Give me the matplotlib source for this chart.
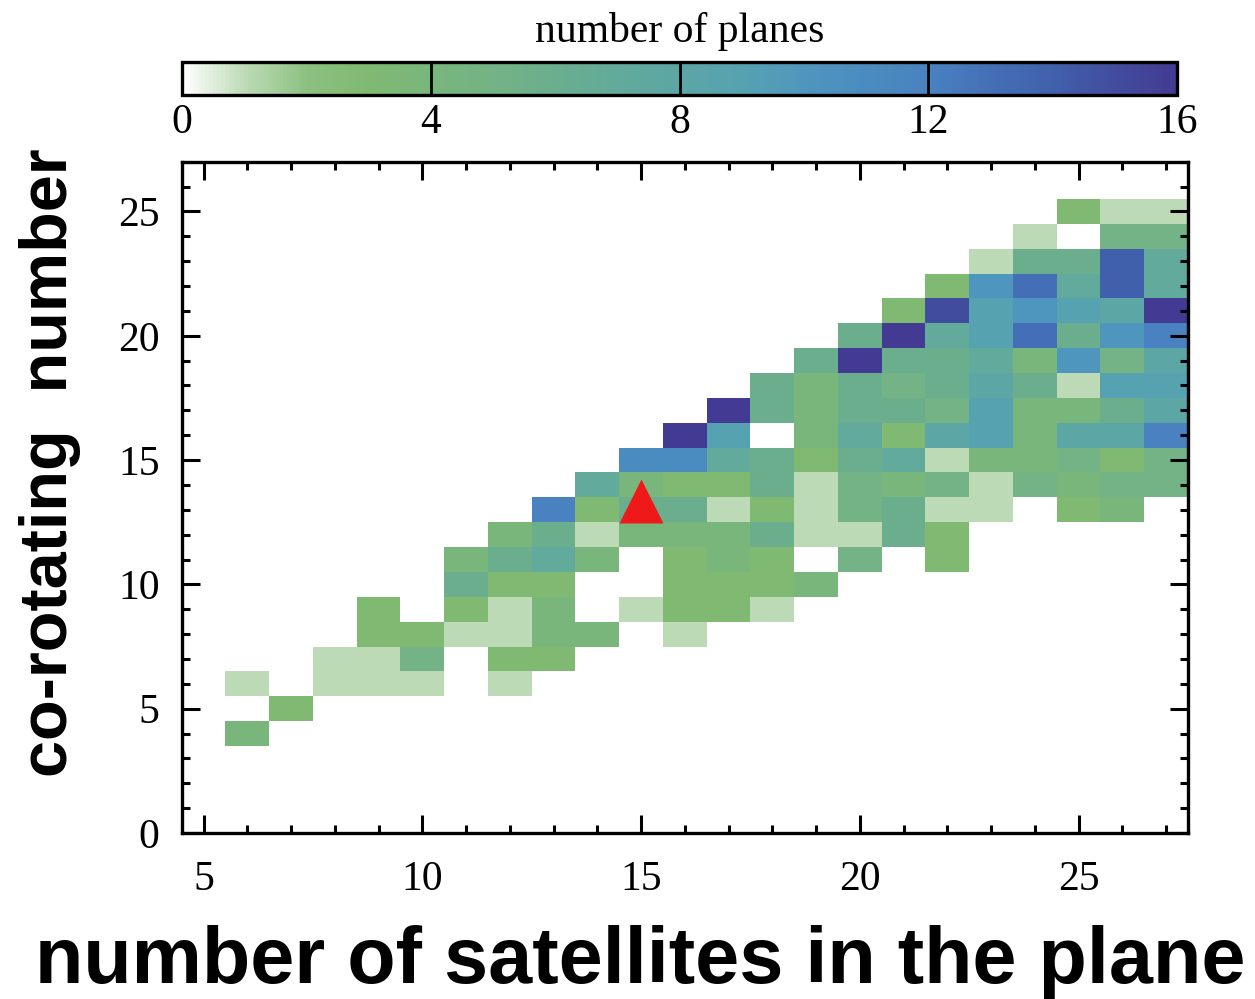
import numpy as np
import matplotlib
matplotlib.use('Agg')
import matplotlib.pyplot as plt
from matplotlib.colors import LinearSegmentedColormap

plt.rcParams['font.family'] = ['Liberation Serif', 'DejaVu Serif']

# column centres (satellites in the plane) and row centres (co-rotating number)
satellites = list(range(6, 28))
corotating = list(range(4, 26))

# number of planes per cell, first row is co-rotating = 4; 0 means no plane
planes = [
    [4, 0, 0, 0, 0, 0, 0, 0, 0, 0, 0, 0, 0, 0, 0, 0, 0, 0, 0, 0, 0, 0],
    [0, 3, 0, 0, 0, 0, 0, 0, 0, 0, 0, 0, 0, 0, 0, 0, 0, 0, 0, 0, 0, 0],
    [1, 0, 1, 1, 1, 0, 1, 0, 0, 0, 0, 0, 0, 0, 0, 0, 0, 0, 0, 0, 0, 0],
    [0, 0, 1, 1, 5, 0, 3, 3, 0, 0, 0, 0, 0, 0, 0, 0, 0, 0, 0, 0, 0, 0],
    [0, 0, 0, 3, 3, 1, 1, 4, 4, 0, 1, 0, 0, 0, 0, 0, 0, 0, 0, 0, 0, 0],
    [0, 0, 0, 3, 0, 3, 1, 4, 0, 1, 3, 3, 1, 0, 0, 0, 0, 0, 0, 0, 0, 0],
    [0, 0, 0, 0, 0, 6, 3, 3, 0, 0, 3, 3, 3, 4, 0, 0, 0, 0, 0, 0, 0, 0],
    [0, 0, 0, 0, 0, 4, 6, 7, 4, 0, 3, 4, 3, 0, 5, 0, 3, 0, 0, 0, 0, 0],
    [0, 0, 0, 0, 0, 0, 4, 6, 1, 4, 4, 4, 6, 1, 1, 6, 3, 0, 0, 0, 0, 0],
    [0, 0, 0, 0, 0, 0, 0, 12, 3, 6, 6, 1, 3, 1, 5, 6, 1, 1, 0, 3, 4, 0],
    [0, 0, 0, 0, 0, 0, 0, 0, 7, 4, 3, 3, 6, 1, 5, 4, 5, 1, 5, 4, 5, 5],
    [0, 0, 0, 0, 0, 0, 0, 0, 0, 11, 11, 7, 6, 3, 6, 7, 1, 4, 4, 5, 3, 5],
    [0, 0, 0, 0, 0, 0, 0, 0, 0, 0, 16, 9, 0, 4, 7, 3, 8, 9, 4, 8, 8, 12],
    [0, 0, 0, 0, 0, 0, 0, 0, 0, 0, 0, 16, 6, 4, 6, 6, 5, 9, 4, 4, 6, 8],
    [0, 0, 0, 0, 0, 0, 0, 0, 0, 0, 0, 0, 6, 4, 6, 5, 6, 8, 6, 1, 9, 9],
    [0, 0, 0, 0, 0, 0, 0, 0, 0, 0, 0, 0, 0, 6, 16, 6, 6, 7, 4, 10, 5, 8],
    [0, 0, 0, 0, 0, 0, 0, 0, 0, 0, 0, 0, 0, 0, 6, 16, 7, 9, 13, 6, 10, 12],
    [0, 0, 0, 0, 0, 0, 0, 0, 0, 0, 0, 0, 0, 0, 0, 3, 15, 9, 10, 9, 8, 16],
    [0, 0, 0, 0, 0, 0, 0, 0, 0, 0, 0, 0, 0, 0, 0, 0, 3, 10, 13, 7, 14, 7],
    [0, 0, 0, 0, 0, 0, 0, 0, 0, 0, 0, 0, 0, 0, 0, 0, 0, 1, 6, 6, 14, 7],
    [0, 0, 0, 0, 0, 0, 0, 0, 0, 0, 0, 0, 0, 0, 0, 0, 0, 0, 1, 0, 5, 5],
    [0, 0, 0, 0, 0, 0, 0, 0, 0, 0, 0, 0, 0, 0, 0, 0, 0, 0, 0, 3, 1, 1],
]

# observed system
obs_sat = [15]
obs_corot = [13.35]

# white -> green -> teal -> blue -> indigo, one anchor per plane count 0..16
cmap_colors = ['#ffffff', '#bcdab5', '#8cc080', '#7fb972', '#79b67c', '#73b385',
               '#6aae8e', '#62aa9b', '#5ca6a5', '#56a2b1', '#4f96be', '#4a8cc0',
               '#4a82c0', '#4470b6', '#4161ad', '#424d9f', '#433b93']
cmap = LinearSegmentedColormap.from_list(
    'planes', list(zip(np.linspace(0, 1, len(cmap_colors)), cmap_colors)))

fig = plt.figure(figsize=(12.55, 9.99), dpi=100)
ax = fig.add_axes([0.1448, 0.1662, 0.8018, 0.6719])

x_edges = np.append(np.array(satellites) - 0.5, satellites[-1] + 0.5)
y_edges = np.append(np.array(corotating) - 0.5, corotating[-1] + 0.5)
grid = np.ma.masked_equal(np.array(planes), 0)
mesh = ax.pcolormesh(x_edges, y_edges, grid, cmap=cmap, vmin=0, vmax=16)

ax.plot(obs_sat, obs_corot, '^', ms=32, color='#ee1a1a', mec='none')

ax.set_xlim(4.5, 27.5)
ax.set_ylim(0, 27)
ax.set_xticks([5, 10, 15, 20, 25])
ax.set_yticks([0, 5, 10, 15, 20, 25])
ax.set_xticks(np.arange(5, 28), minor=True)
ax.set_yticks(np.arange(0, 28), minor=True)
ax.tick_params(which='both', direction='in', top=True, right=True, width=2.2)
ax.tick_params(which='major', length=13, labelsize=30)
ax.tick_params(which='minor', length=6)
ax.tick_params(axis='x', which='major', pad=20)
ax.tick_params(axis='y', which='major', pad=16)
for s in ax.spines.values():
    s.set_linewidth(2.4)

# colour bar across the top
cax = fig.add_axes([0.145, 0.905, 0.793, 0.033])
cb = fig.colorbar(mesh, cax=cax, orientation='horizontal')
cb.set_ticks([0, 4, 8, 12, 16])
cb.outline.set_linewidth(2.4)
cax.tick_params(length=0, labelsize=30, pad=6)
for v in (4, 8, 12):
    cax.axvline(v, color='black', lw=2)
cax.set_title('number of planes', fontsize=30, pad=14)

fig.text(0.51, 0.037, 'number of satellites in the plane', ha='center', va='center',
         fontsize=57, fontweight='bold', family=['Liberation Sans', 'DejaVu Sans'])
fig.text(0.040, 0.537, 'co-rotating  number', ha='center', va='center', rotation=90,
         fontsize=48, fontweight='bold', family=['Liberation Sans', 'DejaVu Sans'])

fig.savefig('out.png', dpi=100)
